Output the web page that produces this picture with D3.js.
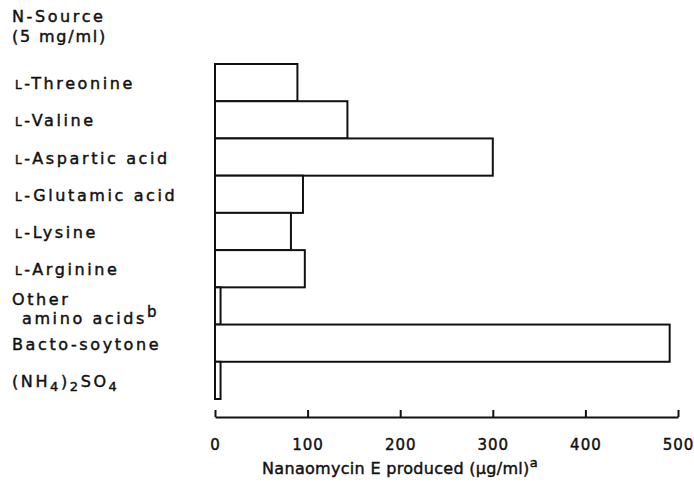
<!DOCTYPE html>
<html>
<head>
<meta charset="utf-8">
<script src="https://cdn.jsdelivr.net/npm/d3@7"></script>
<style>
  body { margin: 0; background: #fff; }
  text { font-family: "DejaVu Sans", sans-serif; fill: #111; stroke: #111; stroke-width: 0.45px; }
</style>
</head>
<body>
<svg id="chart" width="694" height="491"></svg>
<script>
// N-source categories (top to bottom) and nanaomycin E produced (ug/ml)
var categories = ["L-Threonine", "L-Valine", "L-Aspartic acid", "L-Glutamic acid",
                  "L-Lysine", "L-Arginine", "Other amino acids", "Bacto-soytone", "(NH4)2SO4"];
var values = [89, 143, 300, 95, 82, 97, 6, 491, 6];
var tickValues = [0, 100, 200, 300, 400, 500];

var svg = d3.select("#chart");
svg.append("rect").attr("width", 694).attr("height", 491).attr("fill", "#fff");

var x = d3.scaleLinear().domain([0, 500]).range([215, 678]);
var y = d3.scaleBand().domain(categories).range([64, 399]).paddingInner(0).paddingOuter(0);

// bars
svg.selectAll(".bar")
    .data(categories)
    .enter().append("rect")
    .attr("class", "bar")
    .attr("x", x(0))
    .attr("y", function(d) { return y(d); })
    .attr("width", function(d, i) { return x(values[i]) - x(0); })
    .attr("height", y.bandwidth())
    .attr("fill", "#fff")
    .attr("stroke", "#111")
    .attr("stroke-width", 2);

// x axis
var xAxis = d3.axisBottom(x).tickValues(tickValues).tickSize(0).tickPadding(0);
var gx = svg.append("g").attr("transform", "translate(0,417)").call(xAxis);
gx.select(".domain").attr("stroke", "#111").attr("stroke-width", 2);
gx.selectAll(".tick line").attr("y2", -7).attr("stroke", "#111").attr("stroke-width", 2);
gx.selectAll(".tick text")
    .attr("y", 33)
    .attr("dy", null)
    .style("font-size", "15px")
    .style("letter-spacing", "1px")
    .style("font-family", "DejaVu Sans, sans-serif")
    .attr("fill", "#111");

// axis title
var title = svg.append("text")
    .attr("x", 400).attr("y", 474)
    .attr("text-anchor", "middle")
    .style("font-size", "16px")
    .style("letter-spacing", "0.3px");
title.append("tspan").text("Nanaomycin E produced (\u03bcg/ml)");
title.append("tspan").attr("dy", -7).style("font-size", "13px").text("a");

// header
svg.append("text").attr("x", 12).attr("y", 22).style("font-size", "16px")
    .style("letter-spacing", "2.6px").text("N-Source");
svg.append("text").attr("x", 12).attr("y", 42).style("font-size", "16px")
    .style("letter-spacing", "1.8px").text("(5 mg/ml)");

// category labels
var labelDy = 6.5;
var ls = "2.6px";
categories.forEach(function(c) {
    var cy = y(c) + y.bandwidth() / 2 + labelDy;
    var t = svg.append("text").attr("y", cy).style("font-size", "16px").style("letter-spacing", ls);
    if (c.indexOf("L-") === 0) {
        t.attr("x", 15);
        t.append("tspan").style("font-size", "12px").text("L");
        t.append("tspan").text("-" + c.slice(2));
    } else if (c === "Other amino acids") {
        t.attr("x", 12).attr("y", cy - 7).text("Other");
        var t2 = svg.append("text").attr("x", 22).attr("y", cy + 12)
            .style("font-size", "16px").style("letter-spacing", ls);
        t2.append("tspan").text("amino acids");
        t2.append("tspan").attr("dy", -7).style("font-size", "15px").text("b");
    } else if (c === "(NH4)2SO4") {
        t.attr("x", 12);
        t.append("tspan").text("(NH");
        t.append("tspan").attr("dy", 4).style("font-size", "13px").text("4");
        t.append("tspan").attr("dy", -4).text(")");
        t.append("tspan").attr("dy", 4).style("font-size", "13px").text("2");
        t.append("tspan").attr("dy", -4).text("SO");
        t.append("tspan").attr("dy", 4).style("font-size", "13px").text("4");
    } else {
        t.attr("x", 12).text(c);
    }
});
</script>
</body>
</html>
